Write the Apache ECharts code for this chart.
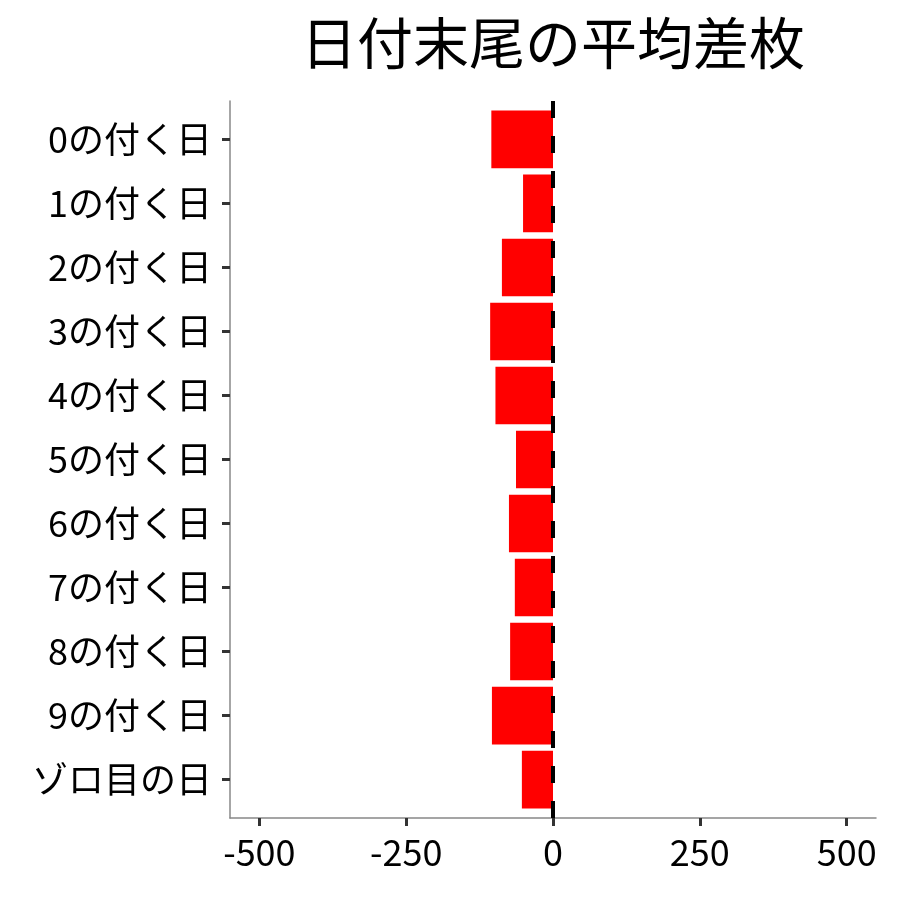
<!DOCTYPE html>
<html>
<head>
<meta charset="utf-8">
<script src="https://cdn.jsdelivr.net/npm/echarts@6/dist/echarts.min.js"></script>
<style>
  html, body { margin: 0; padding: 0; background: #fff; }
  #main { width: 900px; height: 900px; }
</style>
</head>
<body>
<div id="main"></div>
<script>
// categories, top to bottom
var days = ["0の付く日", "1の付く日", "2の付く日", "3の付く日", "4の付く日",
            "5の付く日", "6の付く日", "7の付く日", "8の付く日", "9の付く日", "ゾロ目の日"];
// average difference
var avgDiff = [-105, -51, -87, -107, -98, -63, -75, -65, -73, -104, -53];
var xTicks = [-500, -250, 0, 250, 500];

var myChart = echarts.init(document.getElementById('main'));
var font = '"Noto Sans CJK JP", "Noto Sans", sans-serif';

// outer frame: 101..818, categories padded by 0.6 band on each end (ggplot style)
var top0 = 101, bottom0 = 82;
var band = (900 - top0 - bottom0) / (days.length + 0.2);
var pad = 0.1 * band;

var option = {
    animation: false,
    title: {
        text: '日付末尾の平均差枚',
        left: 548,
        top: 10,
        textAlign: 'center',
        textStyle: { fontFamily: font, fontSize: 56, fontWeight: 'normal', color: '#000' }
    },
    grid: [
        { left: 230, right: 24, top: top0, bottom: bottom0 },
        { left: 230, right: 24, top: top0 + pad, bottom: bottom0 + pad }
    ],
    xAxis: [{
        gridIndex: 0,
        type: 'value',
        min: -550,
        max: 550,
        splitLine: { show: false },
        axisLine: { show: true, onZero: false, lineStyle: { color: '#888', width: 1.5 } },
        axisTick: { show: true, customValues: xTicks, length: 8, lineStyle: { color: '#333', width: 3 } },
        axisLabel: {
            customValues: xTicks,
            margin: 16,
            fontFamily: font, fontSize: 36, color: '#000'
        }
    }, {
        gridIndex: 1,
        type: 'value',
        min: -550,
        max: 550,
        show: false
    }],
    yAxis: [{
        gridIndex: 0,
        type: 'value',
        min: 0,
        max: 1,
        splitLine: { show: false },
        axisLine: { show: true, onZero: false, lineStyle: { color: '#888', width: 1.5 } },
        axisTick: { show: false },
        axisLabel: { show: false }
    }, {
        gridIndex: 1,
        type: 'category',
        data: days,
        inverse: true,
        axisLine: { show: false, onZero: false },
        axisTick: { show: true, alignWithLabel: true, length: 8, lineStyle: { color: '#333', width: 3 } },
        axisLabel: { margin: 18, fontFamily: font, fontSize: 36, color: '#000' }
    }],
    series: [{
        type: 'bar',
        xAxisIndex: 1,
        yAxisIndex: 1,
        data: avgDiff,
        barCategoryGap: '10%',
        itemStyle: { color: '#ff0000' }
    }, {
        // zero reference line over the whole panel
        type: 'scatter',
        xAxisIndex: 0,
        yAxisIndex: 0,
        data: [],
        z: 5,
        markLine: {
            silent: true,
            symbol: 'none',
            label: { show: false },
            lineStyle: { color: '#000', width: 4, type: [17, 18] },
            data: [{ xAxis: 0 }]
        }
    }]
};
myChart.setOption(option);
</script>
</body>
</html>
